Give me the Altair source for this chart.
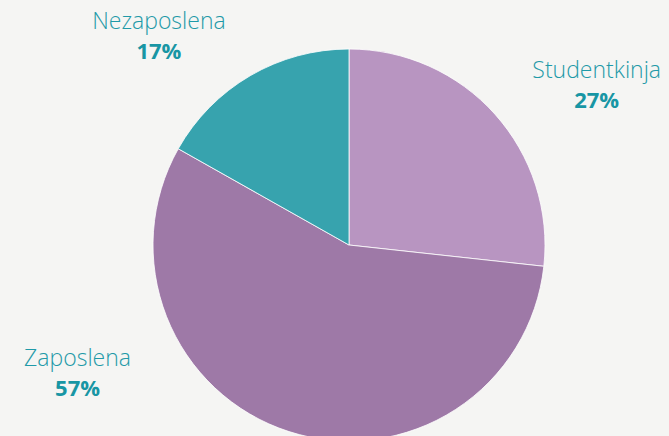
import altair as alt
import pandas as pd
import math

categories = ["Studentkinja", "Zaposlena", "Nezaposlena"]
values = [27, 57, 17]
percent_labels = ["27%", "57%", "17%"]
colors = ["#b895c1", "#9e79a7", "#37a3ae"]

df = pd.DataFrame({
    "kategorija": categories,
    "vrijednost": values,
    "postotak": percent_labels,
    "redoslijed": list(range(len(categories))),
})
total = sum(values)

CX, CY, R = 349, 245, 196

pie = alt.Chart(df).mark_arc(stroke="#ffffff", strokeWidth=0.8).encode(
    theta=alt.Theta("vrijednost:Q", stack=True),
    order=alt.Order("redoslijed:Q"),
    color=alt.Color("kategorija:N", scale=alt.Scale(domain=categories, range=colors), legend=None),
    x=alt.value(CX), y=alt.value(CY), radius=alt.value(R),
)

lab_base = alt.Chart(df).transform_window(
    cum="sum(vrijednost)", sort=[alt.SortField("redoslijed")],
    frame=[None, 0],
).transform_calculate(
    sredina="datum.cum - datum.vrijednost / 2"
)

theta_mid = alt.Theta("sredina:Q", stack=None,
                      scale=alt.Scale(domain=[0, total], range=[0, 2 * math.pi]))

# label offsets (placement only)
offsets = {
    "Studentkinja": (69, 1),
    "Zaposlena": (-198, -99),
    "Nezaposlena": (-69, -1),
}

layers = [pie]
for cat in categories:
    ox, oy = offsets[cat]
    f = lab_base.transform_filter(alt.datum.kategorija == cat)
    layers.append(
        f.mark_text(font="Open Sans", fontSize=23, fontWeight=300, color="#1f9aa8",
                    dx=ox, dy=oy - 15, baseline="middle", align="center").encode(
            theta=theta_mid, text="kategorija:N",
            x=alt.value(CX), y=alt.value(CY), radius=alt.value(240))
    )
    layers.append(
        f.mark_text(font="Open Sans", fontSize=22, fontWeight=700, color="#1896a4",
                    dx=ox, dy=oy + 15, baseline="middle", align="center").encode(
            theta=theta_mid, text="postotak:N",
            x=alt.value(CX), y=alt.value(CY), radius=alt.value(240))
    )

chart = alt.layer(*layers).properties(
    width=669, height=436,
    background="#f5f5f3",
    padding=0,
    autosize=alt.AutoSizeParams(type="none"),
).configure_view(stroke=None)

chart.save("out.html", embed_options={"renderer": "svg", "actions": False})
